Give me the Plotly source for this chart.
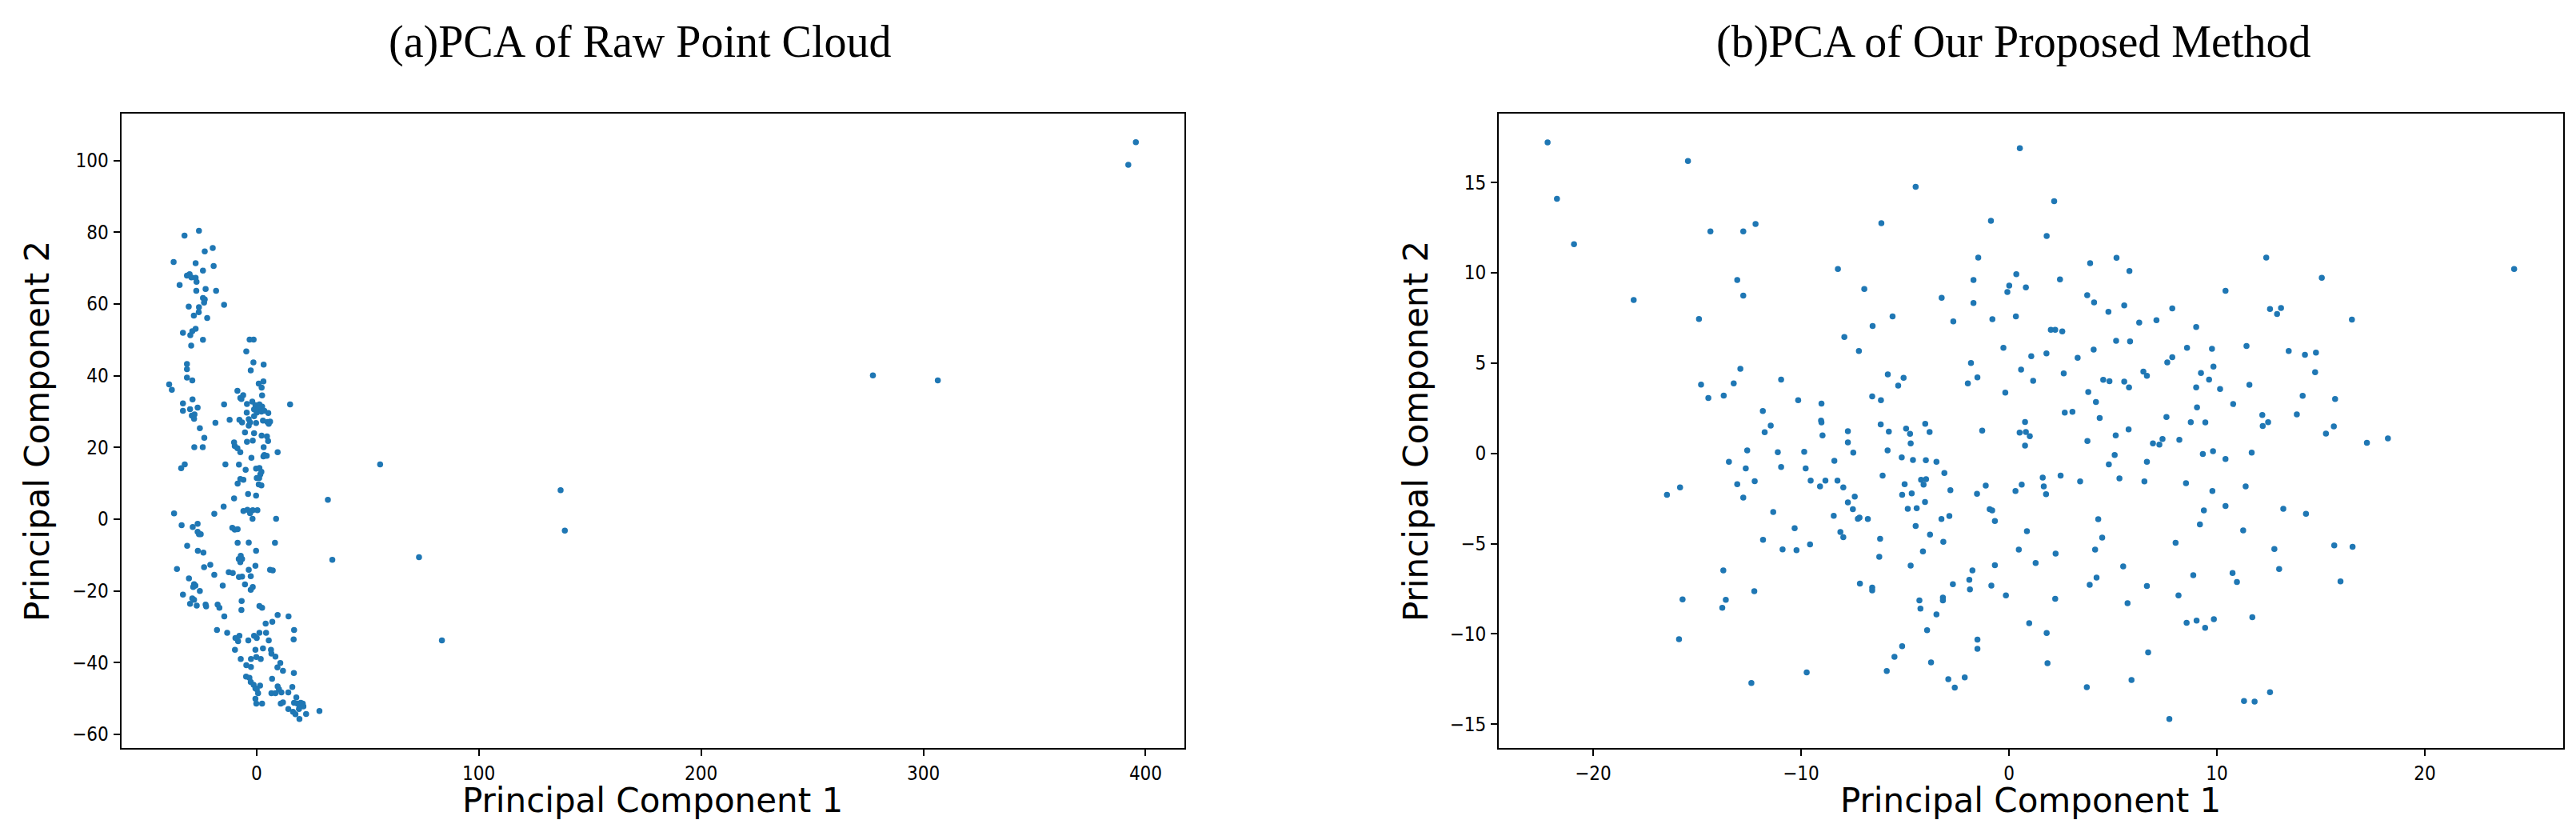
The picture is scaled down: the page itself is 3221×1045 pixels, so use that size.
import plotly.graph_objects as go

# ---------------- data: (a) PCA of raw point cloud ----------------
raw_pc1_upper = [
    -25.9, -32.4, -19.7, -23.3, -37.3, -27.4, -19.3, -24.1, -31.3, -30.1,
    -29.3, -27.4, -27.0, -34.6, -22.9, -27.1, -18.2, -24.1, -23.3, -23.6,
    -30.5, -25.9, -14.6, -28.2, -26.0, -22.2, -33.1, -27.4, -28.9, -29.8,
    -24.1, -29.4, -3.1, -1.3, -4.6, -1.4, 3.2, -2.6, -31.3, -31.3,
    -31.3, -28.9, -39.3, -38.1, 1.0, 3.1, 2.3, 2.5, -8.6, -7.3,
    -6.0, -6.8, -33.1, -28.8, -33.1, -29.9, -26.5, -29.1, -27.9, -28.1,
    -14.6, 15.1, -4.3, -1.9, -0.5, 1.3, 2.5, -1.1, 0.7, 0.1,
    2.2, 3.5, 5.3, -4.4, -1.1, -12.1, -18.5, -7.7, -6.5, -3.5,
    -2.9, -3.5, 2.9, 4.9, 6.1, 5.5, -0.2, -25.5, -5.2, -1.1,
    2.3, 4.7, -23.5,
]
raw_pc2_upper = [
    80.4, 79.1, 75.6, 74.7, 71.7, 71.4, 70.6, 69.3, 67.9, 68.3,
    67.4, 67.3, 66.2, 65.3, 64.2, 63.7, 63.7, 61.7, 61.3, 60.4,
    59.3, 59.1, 59.8, 56.8, 57.7, 56.1, 52.0, 53.1, 52.4, 51.3,
    50.0, 48.4, 50.1, 50.1, 46.8, 43.7, 43.1, 41.5, 43.3, 41.8,
    39.5, 38.7, 37.6, 36.1, 37.8, 38.4, 36.7, 34.5, 35.8, 33.8,
    34.6, 33.5, 32.3, 33.4, 30.2, 30.7, 31.1, 28.9, 29.2, 28.0,
    32.0, 32.0, 32.1, 32.8, 31.8, 32.0, 31.4, 30.6, 30.9, 29.7,
    30.0, 30.2, 29.6, 29.7, 28.7, 27.7, 26.9, 27.7, 27.0, 27.9,
    27.0, 26.1, 27.5, 27.1, 27.2, 26.6, 26.8, 25.4, 24.2, 24.0,
    23.3, 23.1, 22.7,
]
raw_pc1_lower = [
    -28.0, -24.2, -10.1, -9.8, -8.6, -7.3, -4.3, -1.7, 5.2, 3.2,
    3.5, 4.6, 3.1, 9.5, -2.3, -14.0, -7.9, -4.9, -0.2, 1.3,
    2.2, 1.7, 0.1, 1.2, 1.0, 2.2, -32.3, -33.9, 55.6, -7.3,
    -5.9, -8.5, -3.8, -0.2, -10.1, 32.1, -14.8, -37.1, -19.0, -5.9,
    -4.1, -1.7, 0.4, -2.9, -1.8, 8.8, -33.7, -28.7, -26.5, -26.5,
    -25.9, -25.1, -10.9, -9.8, -8.5, -8.5, -3.5, 8.3, -31.2, -26.4,
    -23.9, -0.2, -7.1, -8.0, -6.5, -7.3, 34.1, 73.1, 83.4, -0.5,
    -20.8, -23.6, -35.8, -12.5, -10.7, -3.5, -2.6, 6.1, 7.3, -7.9,
    -6.5, -19.0, -30.4, -28.1, -27.5, -28.5, -25.5, -15.2, -5.2, -1.7,
    -2.6, -33.1, -28.9, -28.1, -29.9, -26.9, -22.9, -22.7, -17.5, -16.7,
    -6.7, -6.8, 1.3, 2.5, -14.5, 9.5, 14.4, 4.1, 7.1, -17.8,
    -13.2, 16.9, 1.3, 4.3, -1.1, 0.1, -9.5, -7.7, -8.3, -3.7,
    5.5, 16.7, -9.7, -0.5, 2.9, 6.5, 6.7, 8.5, -7.1, -2.5,
    -0.1, 1.9, 10.7, 9.4, 11.9, -4.6, -2.5, 16.8, -4.7, -3.2,
    -2.6, -1.3, 1.6, -0.5, 0.7, 0.1, 7.0, 16.1, 9.5, 10.1,
    6.7, 8.5, 11.2, 14.3, -0.5, -0.1, 2.5, 10.9, 11.9, 17.9,
    16.9, 18.4, 19.9, 20.8, 19.3, 21.1, 19.1, 14.3, 16.4, 17.5,
    19.3, 22.3, 28.3,
]
raw_pc2_lower = [
    20.1, 20.1, 21.4, 20.4, 19.8, 18.7, 21.6, 21.9, 21.8, 20.1,
    17.9, 17.7, 17.5, 18.7, 17.1, 15.3, 15.2, 13.8, 14.1, 14.3,
    13.2, 12.5, 11.5, 11.5, 9.7, 9.4, 15.3, 14.2, 15.3, 11.2,
    11.0, 9.9, 7.0, 6.6, 5.8, 5.4, 3.5, 1.6, 1.5, 2.3,
    2.6, 2.5, 2.5, 1.7, 0.1, 0.1, -1.7, -2.2, -1.3, -3.5,
    -4.2, -4.2, -2.4, -2.9, -2.8, -6.6, -6.5, -6.6, -7.4, -8.8,
    -9.3, -8.8, -10.2, -11.1, -11.1, -12.0, -11.3, -10.6, -33.8, -13.0,
    -12.7, -13.4, -13.9, -14.8, -15.0, -14.1, -15.9, -14.1, -14.3, -16.1,
    -16.0, -15.5, -16.5, -18.1, -18.5, -18.9, -20.0, -18.5, -18.2, -18.9,
    -19.7, -21.0, -22.1, -22.5, -23.6, -24.1, -23.8, -24.3, -23.8, -24.7,
    -22.8, -25.3, -24.2, -24.7, -27.1, -26.7, -27.1, -29.1, -28.6, -30.9,
    -31.7, -30.9, -31.7, -31.7, -32.5, -33.1, -33.1, -32.5, -34.0, -33.8,
    -33.8, -33.5, -36.4, -36.4, -36.0, -36.4, -37.5, -38.3, -39.0, -39.0,
    -38.4, -39.0, -40.1, -41.3, -42.3, -40.7, -41.2, -42.9, -43.9, -44.2,
    -45.4, -46.2, -46.4, -47.2, -48.5, -47.4, -44.5, -46.8, -46.6, -47.4,
    -48.5, -48.5, -48.3, -48.3, -50.1, -51.4, -51.4, -51.4, -51.1, -49.7,
    -51.2, -51.4, -51.2, -51.4, -51.9, -52.2, -52.9, -52.9, -53.7, -54.4,
    -55.7, -54.3, -53.5,
]
raw_pc1_far = [395.6, 392.2, 277.3, 306.5, 136.8, 138.7]
raw_pc2_far = [105.1, 98.8, 40.1, 38.7, 8.1, -3.2]

raw_pc1 = raw_pc1_upper + raw_pc1_lower + raw_pc1_far
raw_pc2 = raw_pc2_upper + raw_pc2_lower + raw_pc2_far

# ---------------- data: (b) PCA of our proposed method ----------------
ours_pc1_ul = [
    -22.19, -21.74, -20.92, -18.05, -15.44, -14.91, -14.36, -12.78, -12.19, -13.07,
    -12.78, -14.81, -14.46, -13.72, -13.24, -12.92, -11.84, -11.75, -11.46, -10.96,
    -10.14, -9.02, -9.04, -9.02, -8.97, -8.23, -7.92, -7.75, -7.22, -6.96,
    -6.56, -6.58, -6.16, -6.14, -6.17, -5.78, -5.83, -5.60, -5.33, -5.07,
    -4.95, -4.76, -4.49, -4.03, -3.82, -3.24, -2.68, -1.98, -1.83, -1.71,
    -1.71, -1.52, -1.48, -0.87, -0.80, -1.29,
]
ours_pc2_ul = [
    17.22, 14.10, 11.59, 8.49, 16.19, 7.44, 12.30, 12.30, 12.70, 9.60,
    8.74, 3.81, 3.07, 3.20, 3.88, 4.68, 2.35, 1.17, 1.54, 4.09,
    2.95, 2.76, 1.82, 1.72, 1.00, 10.21, 6.45, 1.23, 5.67, 9.10,
    7.06, 3.15, 2.94, 12.75, 1.61, 1.21, 4.37, 7.59, 3.75, 4.19,
    1.37, 1.08, 14.77, 1.64, 1.18, 8.62, 7.31, 3.87, 5.01, 9.60,
    8.33, 4.21, 10.84, 12.88, 7.43, 1.26,
]
ours_pc1_ll = [
    -7.75, -4.73, -12.59, -11.12, -9.85, -7.49, -5.84, -5.16, -4.62, -4.00,
    -3.49, -13.47, -12.66, -10.96, -9.78, -8.40, -6.08, -3.11, -15.82, -16.45,
    -13.07, -12.23, -12.78, -9.54, -9.09, -8.83, -8.25, -7.97, -7.42, -7.75,
    -7.51, -7.27, -7.19, -6.79, -8.43, -8.11, -7.97, -11.34, -10.31, -11.83,
    -10.89, -10.22, -9.57, -6.20, -6.24, -5.02, -5.14, -4.68, -4.23, -4.11,
    -3.99, -4.04, -4.87, -4.44, -4.49, -3.25, -2.87, -2.82, -3.80, -3.16,
    -4.14, -4.73, -1.54, -1.12, -0.93, -0.81, -0.68, -0.68, -0.85, -1.76,
    -1.91, -1.88, -2.70, -7.17, -6.58, -6.58, -3.18, -3.18, -4.31, -4.26,
    -3.49, -3.94, -13.74, -13.62, -13.79, -15.70, -12.25, -15.87, -5.14, -5.51,
    -1.52, -1.52, -3.75, -9.73, -5.88, -12.39, -2.92, -2.61, -2.13,
]
ours_pc2_ll = [
    0.61, 0.55, 0.16, 0.06, 0.09, 0.04, 0.16, -0.22, -0.37, -0.38,
    -0.47, -0.47, -0.83, -0.75, -0.83, -0.41, -1.23, -1.09, -1.89, -2.29,
    -1.71, -1.54, -2.45, -1.51, -1.83, -1.51, -1.51, -1.89, -2.39, -2.72,
    -3.09, -3.62, -3.56, -3.63, -3.46, -4.36, -4.64, -3.25, -4.15, -4.79,
    -5.32, -5.36, -5.04, -4.73, -5.73, -1.71, -2.29, -2.22, -1.46, -1.73,
    -1.43, -2.69, -3.07, -3.04, -4.02, -3.63, -3.47, -2.04, -4.50, -4.90,
    -5.43, -6.22, -2.24, -1.79, -3.09, -3.16, -3.75, -6.19, -7.33, -6.48,
    -7.00, -7.53, -7.25, -7.21, -7.44, -7.59, -7.99, -8.14, -8.14, -8.60,
    -8.92, -9.79, -6.48, -8.11, -8.55, -8.09, -7.63, -10.29, -10.68, -11.27,
    -10.32, -10.83, -11.58, -12.13, -12.05, -12.72, -12.51, -12.97, -12.41,
]
ours_pc1_ur = [
    0.52, 2.17, 1.81, -0.27, 0.35, 0.01, -0.08, 0.81, 0.33, 2.45,
    3.90, 5.17, 5.79, 3.76, 4.09, 4.78, 5.54, 7.85, 6.26, 7.09,
    9.00, 10.41, 12.37, 15.04, 24.29, 12.55, 13.08, 12.89, 16.49, 2.01,
    2.22, 2.56, 1.07, 1.80, 3.30, 4.07, 5.15, 5.82, 8.56, 9.76,
    11.42, 13.45, 14.23, 14.76, 0.58, 2.63, 1.16, -0.18, 3.81, 4.18,
    4.53, 4.83, 5.54, 5.77, 6.46, 6.63, 7.61, 7.85, 9.23, 9.83,
    9.62, 9.00, 10.15, 11.56, 14.72, 14.12, 15.68, 10.78, 2.68, 3.05,
    4.36, 7.57, 9.04, 8.74, 9.44, 12.18, 12.46, 12.20, 13.84, 15.62,
    0.77, 0.51, 0.81, 1.00, 5.13, 5.75, 15.24, 18.22,
]
ours_pc2_ur = [
    16.90, 13.97, 12.04, 5.85, 9.92, 9.29, 8.94, 9.19, 7.59, 9.64,
    10.53, 10.83, 10.10, 8.76, 8.36, 7.84, 8.20, 8.03, 7.24, 7.38,
    7.00, 9.01, 10.84, 9.73, 10.21, 8.00, 8.05, 7.72, 7.41, 6.85,
    6.84, 6.76, 5.38, 5.54, 5.29, 5.75, 6.23, 6.20, 5.85, 5.79,
    5.95, 5.67, 5.46, 5.58, 4.64, 4.43, 4.02, 3.37, 3.40, 2.85,
    4.08, 4.00, 3.97, 3.65, 4.53, 4.30, 5.04, 5.33, 4.45, 4.81,
    4.09, 3.65, 3.57, 3.80, 4.50, 3.19, 3.01, 2.73, 2.26, 2.30,
    1.96, 2.01, 2.55, 1.73, 1.71, 2.13, 1.73, 1.52, 2.16, 1.49,
    1.74, 1.15, 1.18, 0.95, 1.00, 1.33, 1.09, 0.83,
]
ours_pc1_lr = [
    0.77, 3.77, 6.92, 7.23, 7.38, 8.19, 17.21, 9.32, 9.81, 10.41,
    11.67, 5.08, 4.80, 6.63, 1.62, 2.48, 0.61, 0.31, 1.67, 1.78,
    3.42, 5.31, 6.51, 8.51, 9.78, 11.38, 9.37, 10.41, 9.18, 13.19,
    14.28, 11.26, 4.29, 0.86, 4.48, 0.47, 2.24, 4.14, 1.28, 8.01,
    5.49, 12.76, 15.64, 16.52, 12.99, 8.86, 10.75, 10.96, 15.94, 4.21,
    3.88, -0.15, 2.22, 6.63, 8.15, 5.70, 11.70, 8.54, 9.02, 9.85,
    9.43, 0.97, 1.81, 6.69, 1.85, 5.89, 3.74, 12.55, 11.30, 11.81,
    7.71,
]
ours_pc2_lr = [
    0.43, 0.69, 0.55, 0.49, 0.80, 0.75, 0.58, -0.03, 0.12, -0.31,
    0.04, -0.09, -0.61, -0.47, -1.34, -1.23, -1.73, -2.08, -1.83, -2.26,
    -1.55, -1.39, -1.55, -1.65, -2.08, -1.83, -3.16, -2.91, -3.93, -3.07,
    -3.35, -4.27, -3.65, -4.31, -4.67, -5.33, -5.55, -5.33, -6.07, -4.95,
    -6.26, -5.30, -5.10, -5.18, -6.41, -6.75, -6.63, -7.12, -7.09, -6.88,
    -7.28, -7.87, -8.06, -7.35, -7.87, -8.30, -9.08, -9.38, -9.26, -9.19,
    -9.66, -9.41, -9.95, -11.02, -11.62, -12.55, -12.95, -13.23, -13.72, -13.75,
    -14.71,
]

ours_pc1 = ours_pc1_ul + ours_pc1_ll + ours_pc1_ur + ours_pc1_lr
ours_pc2 = ours_pc2_ul + ours_pc2_ll + ours_pc2_ur + ours_pc2_lr

# ---------------- text / ticks ----------------
title_a = "(a)PCA of Raw Point Cloud"
title_b = "(b)PCA of Our Proposed Method"
xlabel = "Principal Component 1"
ylabel = "Principal Component 2"
raw_xticks = [0, 100, 200, 300, 400]
raw_yticks = [-60, -40, -20, 0, 20, 40, 60, 80, 100]
ours_xticks = [-20, -10, 0, 10, 20]
ours_yticks = [-15, -10, -5, 0, 5, 10, 15]

# ---------------- figure ----------------
W, H = 3221, 1045
BLUE = "#1f77b4"
SANS = "DejaVu Sans, Verdana, sans-serif"
TICKF = "DejaVu Sans Condensed, DejaVu Sans, sans-serif"
SERIF = "Liberation Serif, Times New Roman, serif"

fig = go.Figure()
marker = dict(size=7.5, color=BLUE, line=dict(width=0))
fig.add_trace(go.Scatter(x=raw_pc1, y=raw_pc2, mode="markers", marker=marker,
                         xaxis="x", yaxis="y", showlegend=False, hoverinfo="skip"))
fig.add_trace(go.Scatter(x=ours_pc1, y=ours_pc2, mode="markers", marker=marker,
                         xaxis="x2", yaxis="y2", showlegend=False, hoverinfo="skip"))

ax = dict(showline=True, linecolor="black", linewidth=1.8, mirror=True,
          ticks="outside", ticklen=8, tickwidth=1.8, tickcolor="black",
          showgrid=False, zeroline=False, tickmode="array",
          ticklabelstandoff=1,
          tickfont=dict(family=TICKF, size=24, color="black"))

y_dom = [1 - 927 / H, 1 - 134 / H]
fig.update_layout(
    width=W, height=H,
    margin=dict(l=0, r=0, t=0, b=0, autoexpand=False),
    paper_bgcolor="white", plot_bgcolor="white",
    xaxis=dict(ax, domain=[143.5 / W, 1473.4 / W], range=[-60.9, 417.6],
               tickvals=raw_xticks, anchor="y"),
    yaxis=dict(ax, domain=y_dom, range=[-63.8, 113.1],
               tickvals=raw_yticks, anchor="x"),
    xaxis2=dict(ax, domain=[1866 / W, 3197 / W], range=[-24.54, 26.65],
                tickvals=ours_xticks, anchor="y2"),
    yaxis2=dict(ax, domain=y_dom, range=[-16.32, 18.82],
                tickvals=ours_yticks, anchor="x2"),
)

ann = []
for cx, t in [(792, title_a), (2510, title_b)]:
    ann.append(dict(x=cx / W, y=1 - 44 / H, xref="paper", yref="paper",
                    text=t, showarrow=False, xanchor="center", yanchor="middle",
                    font=dict(family=SERIF, size=56, color="black")))
for cx in [808, 2531]:
    ann.append(dict(x=cx / W, y=1 - 992 / H, xref="paper", yref="paper",
                    text=xlabel, showarrow=False, xanchor="center", yanchor="middle",
                    font=dict(family=SANS, size=42, color="black")))
for cx in [38, 1762]:
    ann.append(dict(x=cx / W, y=1 - 531 / H, xref="paper", yref="paper",
                    text=ylabel, showarrow=False, textangle=-90,
                    xanchor="center", yanchor="middle",
                    font=dict(family=SANS, size=42, color="black")))
fig.update_layout(annotations=ann)

fig.write_html("out.html")
